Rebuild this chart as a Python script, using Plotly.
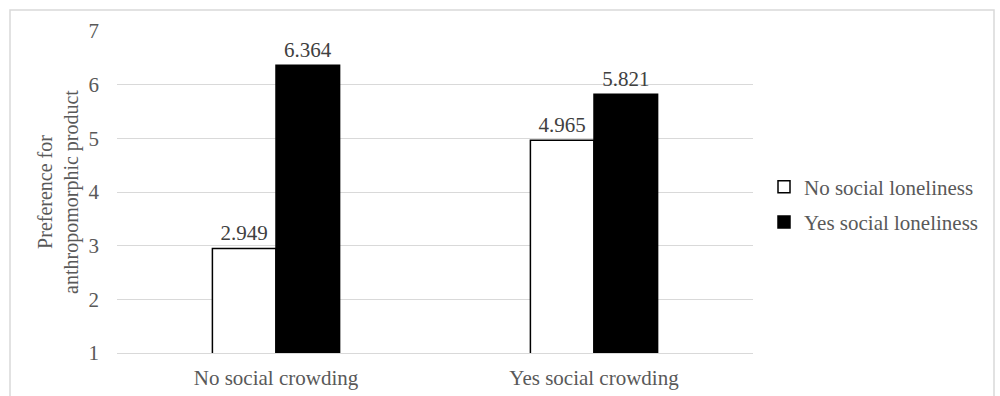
import plotly.graph_objects as go

categories = ["No social crowding", "Yes social crowding"]
series_names = ["No social loneliness", "Yes social loneliness"]
no_loneliness = [2.949, 4.965]
yes_loneliness = [6.364, 5.821]
y_ticks = [1, 2, 3, 4, 5, 6, 7]

FONT = "Liberation Serif"
TXT = "#595959"
GRID = "#d9d9d9"

fig = go.Figure()
fig.add_trace(go.Bar(
    x=categories, y=no_loneliness, name=series_names[0], legendgroup="a",
    marker=dict(color="white", line=dict(color="black", width=1.5)),
    text=[f"{v:.3f}" for v in no_loneliness], textposition="outside",
    textfont=dict(family=FONT, size=21, color="#404040"), cliponaxis=False,
))
fig.add_trace(go.Bar(
    x=categories, y=yes_loneliness, name=series_names[1], legendgroup="b",
    marker=dict(color="black", line=dict(color="black", width=1.5)),
    text=[f"{v:.3f}" for v in yes_loneliness], textposition="outside",
    textfont=dict(family=FONT, size=21, color="#404040"), cliponaxis=False,
))

fig.update_layout(
    width=1000, height=396,
    margin=dict(l=117, r=247, t=31, b=43, autoexpand=False),
    paper_bgcolor="white", plot_bgcolor="white",
    barmode="group", bargap=0.6, bargroupgap=0,
    font=dict(family=FONT, size=21, color=TXT),
    showlegend=True,
    legend=dict(x=(764 - 117) / 636, y=1 - (204.5 - 31) / 322,
                xanchor="left", yanchor="middle",
                font=dict(family=FONT, size=21, color=TXT),
                itemwidth=30, tracegroupgap=5, bgcolor="rgba(0,0,0,0)"),
)
fig.update_yaxes(
    range=[1, 7], tickvals=y_ticks, showgrid=True, gridcolor=GRID, gridwidth=1,
    zeroline=False, showline=False, ticks="", ticklabelstandoff=17,
    tickfont=dict(family=FONT, size=21, color=TXT),
    title=dict(text="Preference for<br>anthropomorphic product",
               font=dict(family=FONT, size=20, color=TXT), standoff=4),
)
fig.update_xaxes(
    showline=True, linecolor=GRID, linewidth=1, ticks="", showgrid=False,
    tickfont=dict(family=FONT, size=21, color=TXT), ticklabelstandoff=6,
)
# outer chart border
fig.add_shape(type="rect", xref="paper", yref="paper",
              x0=(10 - 117) / 636, x1=(994 - 117) / 636,
              y0=-0.3, y1=1 + (31 - 10) / 322,
              line=dict(color=GRID, width=1.5), fillcolor="rgba(0,0,0,0)",
              layer="below")

fig.write_html("out.html")
